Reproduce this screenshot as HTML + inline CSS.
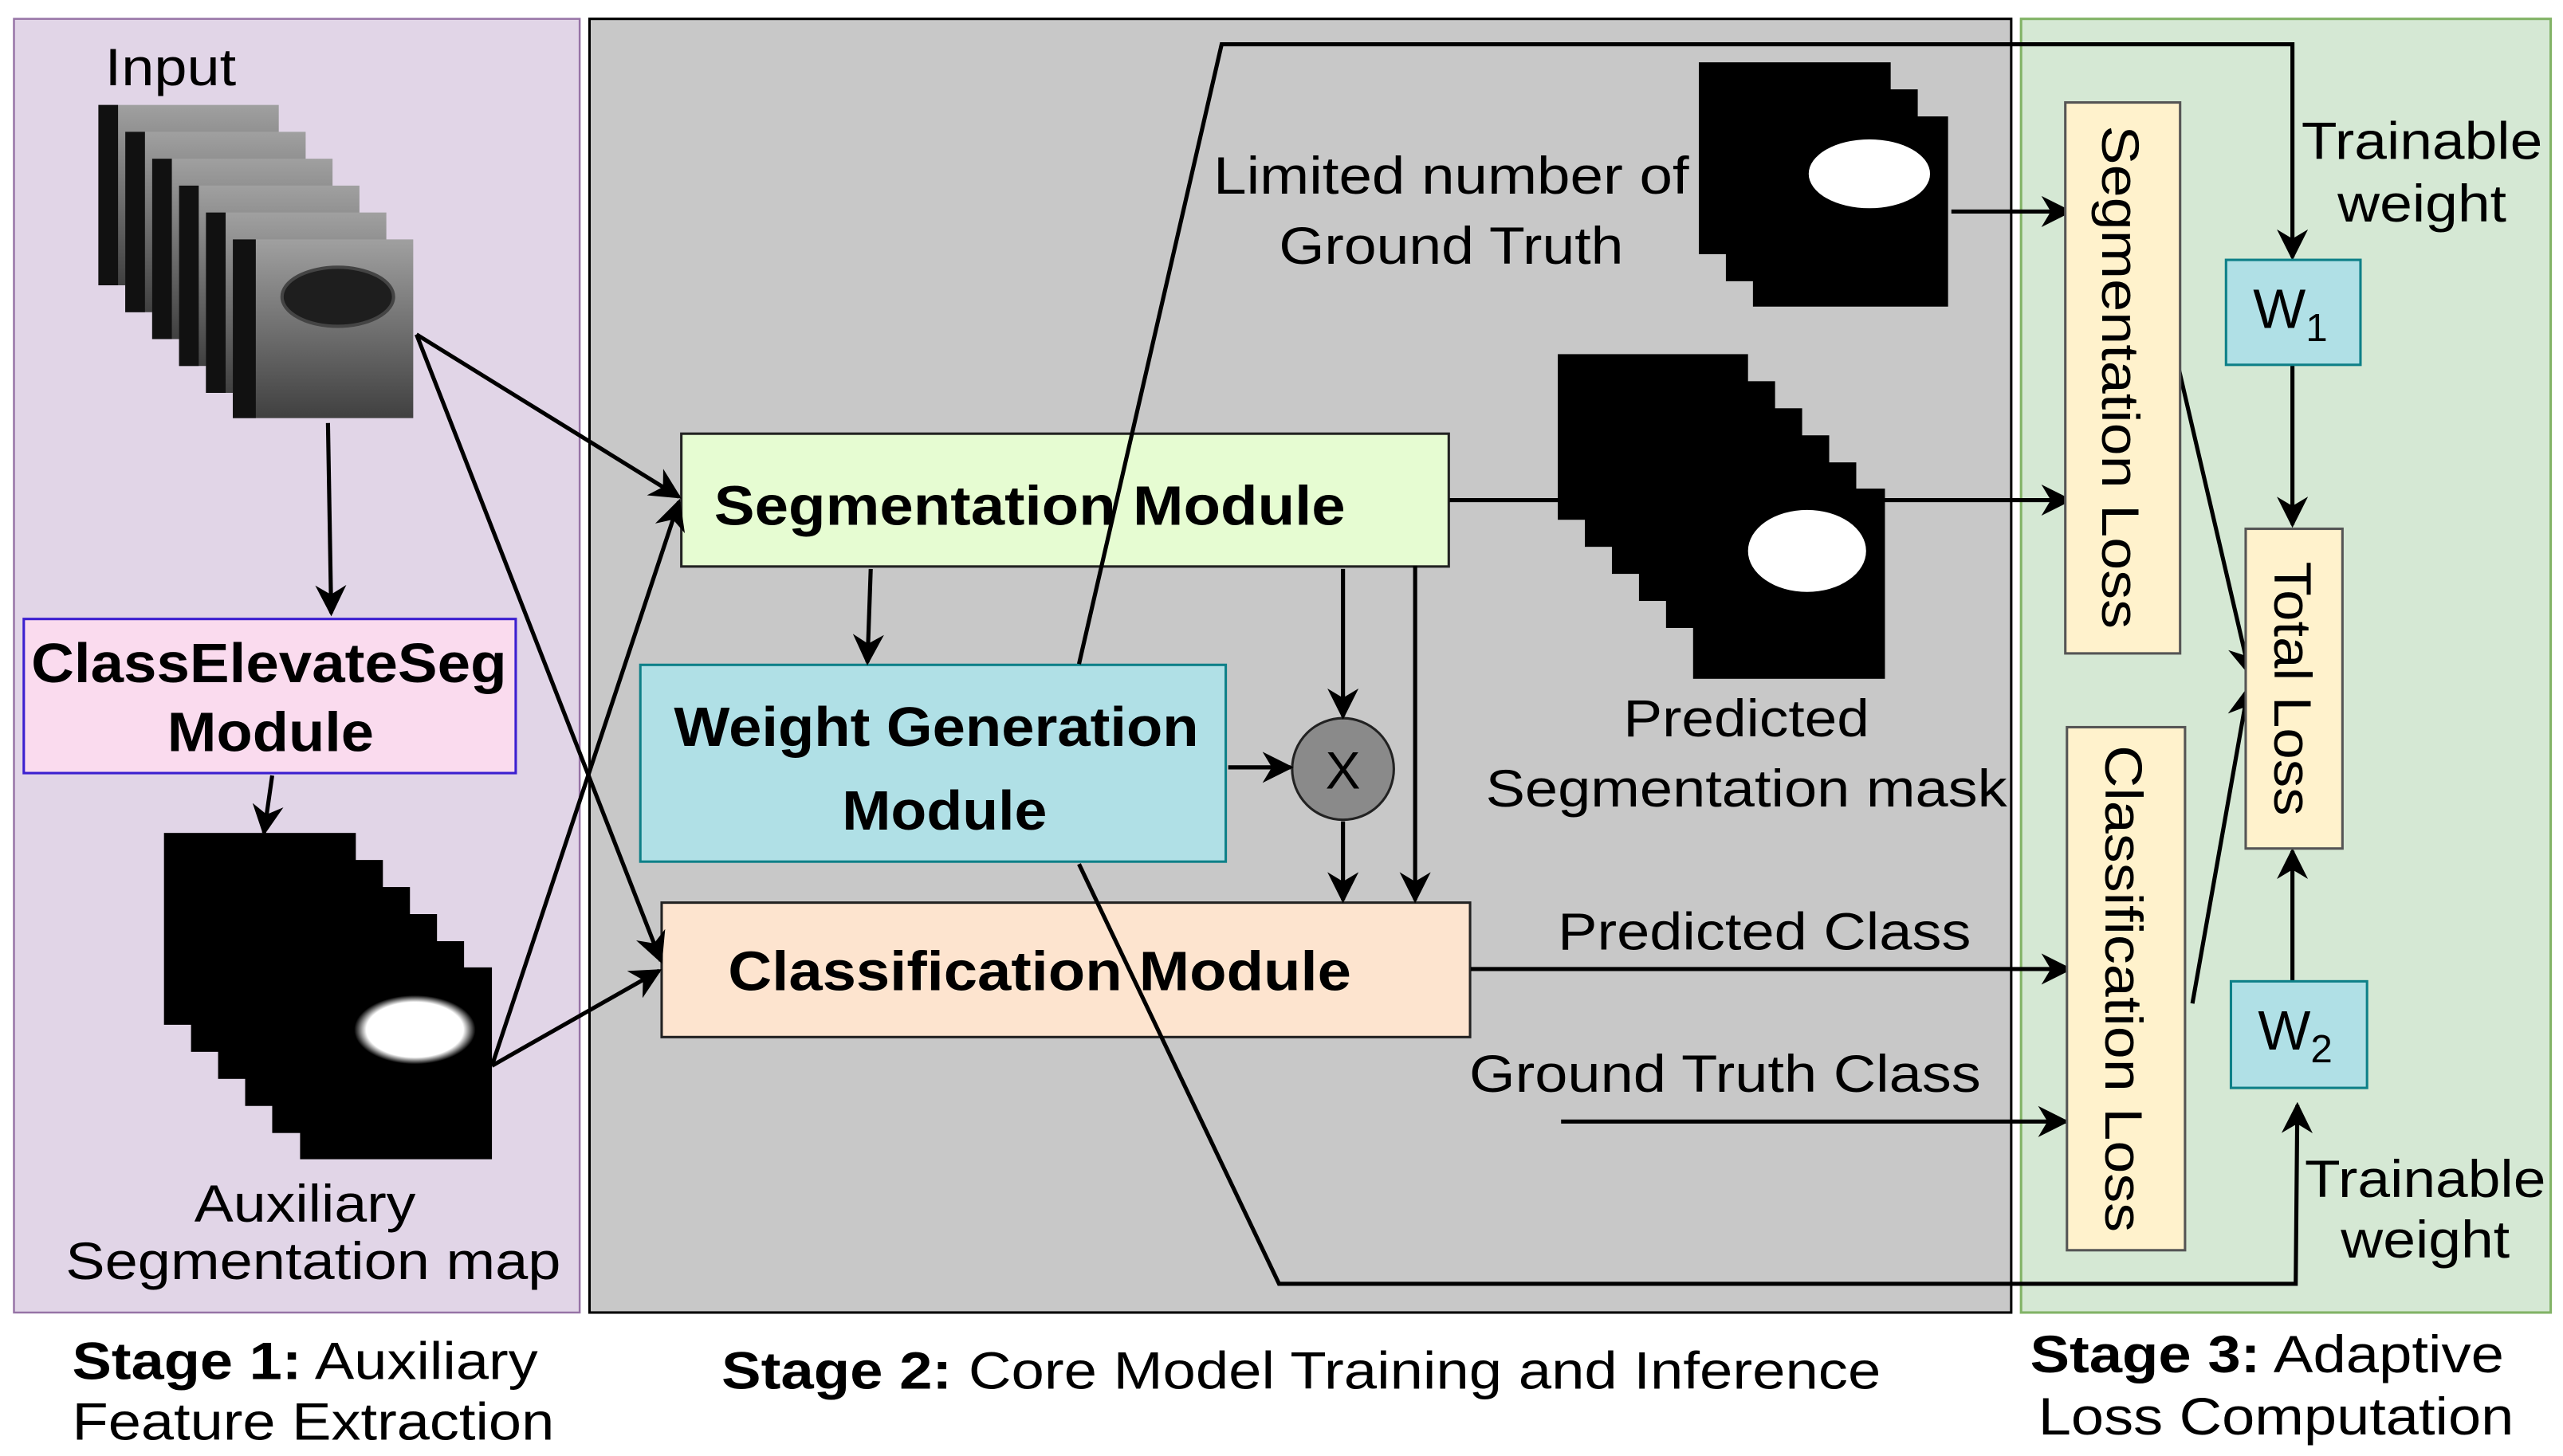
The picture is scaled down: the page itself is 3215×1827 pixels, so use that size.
<!DOCTYPE html>
<html><head><meta charset="utf-8"><style>html,body{margin:0;padding:0;background:#fff}svg{display:block}text{font-family:"Liberation Sans",Arial,sans-serif;fill:#000}</style></head>
<body>
<svg width="3215" height="1827" viewBox="0 0 1563 888" preserveAspectRatio="none" xmlns="http://www.w3.org/2000/svg">
<defs>
<marker id="b" viewBox="0 0 10 10" refX="9" refY="5" markerWidth="19" markerHeight="19" orient="auto" markerUnits="userSpaceOnUse"><path d="M0,0 L10,5 L0,10 L3,5 z" fill="#000"/></marker>
<linearGradient id="us" x1="0" y1="0" x2="0" y2="1"><stop offset="0" stop-color="#a0a0a0"/><stop offset="0.5" stop-color="#707070"/><stop offset="1" stop-color="#404040"/></linearGradient>
<radialGradient id="blob"><stop offset="0" stop-color="#fff"/><stop offset="0.8" stop-color="#fff"/><stop offset="1" stop-color="#000"/></radialGradient>
</defs>
<rect width="1563" height="888" fill="#fff"/>
<rect x="8.5" y="11.5" width="345" height="789" fill="#e1d5e7" stroke="#9673a6" stroke-width="1.2"/>
<rect x="359.5" y="11.5" width="867" height="789" fill="#c8c8c8" stroke="#000" stroke-width="1.5"/>
<rect x="1232.5" y="11.5" width="323" height="789" fill="#d5e8d4" stroke="#82b366" stroke-width="1.5"/>

<text x="64" y="52" font-size="32" textLength="80" lengthAdjust="spacingAndGlyphs">Input</text>
<g>
<rect x="60" y="64" width="110" height="110" fill="url(#us)"/><rect x="60" y="64" width="12" height="110" fill="#111"/>
<rect x="76.4" y="80.4" width="110" height="110" fill="url(#us)"/><rect x="76.4" y="80.4" width="12" height="110" fill="#111"/>
<rect x="92.8" y="96.8" width="110" height="110" fill="url(#us)"/><rect x="92.8" y="96.8" width="12" height="110" fill="#111"/>
<rect x="109.2" y="113.2" width="110" height="110" fill="url(#us)"/><rect x="109.2" y="113.2" width="12" height="110" fill="#111"/>
<rect x="125.6" y="129.6" width="110" height="110" fill="url(#us)"/><rect x="125.6" y="129.6" width="12" height="110" fill="#111"/>
<rect x="142" y="146" width="110" height="109" fill="url(#us)"/><rect x="142" y="146" width="14" height="109" fill="#111"/>
<ellipse cx="206" cy="181" rx="34" ry="18" fill="#1e1e1e" stroke="#444" stroke-width="2"/>
</g>
<line x1="200" y1="258" x2="202" y2="374" stroke="#000" stroke-width="2.5" marker-end="url(#b)"/>
<rect x="14.5" y="377.5" width="300" height="94" fill="#fadbee" stroke="#3b1fd0" stroke-width="1.5"/>
<text x="164" y="416" font-size="34" font-weight="bold" text-anchor="middle" textLength="290" lengthAdjust="spacingAndGlyphs">ClassElevateSeg</text>
<text x="165" y="458" font-size="34" font-weight="bold" text-anchor="middle" textLength="126" lengthAdjust="spacingAndGlyphs">Module</text>
<line x1="166" y1="473" x2="161" y2="508" stroke="#000" stroke-width="2.5" marker-end="url(#b)"/>
<g fill="#000">
<rect x="100" y="508" width="117" height="117"/>
<rect x="116.5" y="524.5" width="117" height="117"/>
<rect x="133" y="541" width="117" height="117"/>
<rect x="149.5" y="557.5" width="117" height="117"/>
<rect x="166" y="574" width="117" height="117"/>
<rect x="183" y="590" width="117" height="117"/>
</g>
<ellipse cx="253" cy="628" rx="37" ry="21" fill="url(#blob)"/>
<text x="186" y="745" font-size="32" text-anchor="middle" textLength="135" lengthAdjust="spacingAndGlyphs">Auxiliary</text>
<text x="191" y="780" font-size="32" text-anchor="middle" textLength="302" lengthAdjust="spacingAndGlyphs">Segmentation map</text>

<rect x="415.5" y="264.5" width="468" height="81" fill="#e6fcd2" stroke="#222" stroke-width="1.5"/>
<text x="628" y="320" font-size="34" font-weight="bold" text-anchor="middle" textLength="385" lengthAdjust="spacingAndGlyphs">Segmentation  Module</text>
<rect x="390.5" y="405.5" width="357" height="120" fill="#b0e0e6" stroke="#0e8088" stroke-width="1.5"/>
<text x="571" y="455" font-size="34" font-weight="bold" text-anchor="middle" textLength="320" lengthAdjust="spacingAndGlyphs">Weight Generation</text>
<text x="576" y="506" font-size="34" font-weight="bold" text-anchor="middle" textLength="125" lengthAdjust="spacingAndGlyphs">Module</text>
<rect x="403.5" y="550.5" width="493" height="82" fill="#fde4cf" stroke="#222" stroke-width="1.5"/>
<text x="634" y="604" font-size="34" font-weight="bold" text-anchor="middle" textLength="380" lengthAdjust="spacingAndGlyphs">Classification  Module</text>
<circle cx="819" cy="469" r="31" fill="#8a8a8a" stroke="#222" stroke-width="1.5"/>
<text x="819" y="481" font-size="32" text-anchor="middle">X</text>

<g stroke="#000" stroke-width="2.5" fill="none">
<line x1="254" y1="204" x2="414" y2="303" marker-end="url(#b)"/>
<line x1="254" y1="204" x2="403" y2="586" marker-end="url(#b)"/>
<line x1="300" y1="650" x2="414" y2="306" marker-end="url(#b)"/>
<line x1="300" y1="650" x2="402" y2="592" marker-end="url(#b)"/>
<line x1="531" y1="347" x2="529" y2="404" marker-end="url(#b)"/>
<line x1="749" y1="468" x2="787" y2="468" marker-end="url(#b)"/>
<line x1="819" y1="347" x2="819" y2="437" marker-end="url(#b)"/>
<line x1="819" y1="501" x2="819" y2="549" marker-end="url(#b)"/>
<line x1="863" y1="345" x2="863" y2="549" marker-end="url(#b)"/>
<line x1="884" y1="305" x2="1262" y2="305" marker-end="url(#b)"/>
<line x1="1190" y1="129" x2="1262" y2="129" marker-end="url(#b)"/>
<line x1="897" y1="591" x2="1262" y2="591" marker-end="url(#b)"/>
<line x1="952" y1="684" x2="1260" y2="684" marker-end="url(#b)"/>
<polyline points="658,405 745,27 1398,27 1398,157" marker-end="url(#b)"/>
<polyline points="658,527 780,783 1400,783 1401,674" marker-end="url(#b)"/>
<line x1="1398" y1="222" x2="1398" y2="320" marker-end="url(#b)"/>
<line x1="1398" y1="598" x2="1398" y2="519" marker-end="url(#b)"/>
<line x1="1328" y1="222" x2="1372" y2="411" marker-end="url(#b)"/>
<line x1="1337" y1="612" x2="1371" y2="420" marker-end="url(#b)"/>
</g>

<g fill="#000">
<rect x="1036" y="38" width="117" height="117"/>
<rect x="1052.5" y="54.5" width="117" height="117"/>
<rect x="1069" y="71" width="119" height="116"/>
</g>
<ellipse cx="1140" cy="106" rx="37" ry="21" fill="#fff"/>
<g fill="#000">
<rect x="950" y="216" width="116" height="101"/>
<rect x="966.5" y="232.5" width="116" height="101"/>
<rect x="983" y="249" width="116" height="101"/>
<rect x="999.5" y="265.5" width="116" height="101"/>
<rect x="1016" y="282" width="116" height="101"/>
<rect x="1032.5" y="298" width="117" height="116"/>
</g>
<ellipse cx="1102" cy="336" rx="36" ry="25" fill="#fff"/>

<text x="885" y="118" font-size="32" text-anchor="middle" textLength="290" lengthAdjust="spacingAndGlyphs">Limited number of</text>
<text x="885" y="161" font-size="32" text-anchor="middle" textLength="210" lengthAdjust="spacingAndGlyphs">Ground Truth</text>
<text x="1065" y="449" font-size="32" text-anchor="middle" textLength="150" lengthAdjust="spacingAndGlyphs">Predicted</text>
<text x="1065" y="492" font-size="32" text-anchor="middle" textLength="318" lengthAdjust="spacingAndGlyphs">Segmentation mask</text>
<text x="1076" y="579" font-size="32" text-anchor="middle" textLength="252" lengthAdjust="spacingAndGlyphs">Predicted Class</text>
<text x="1052" y="666" font-size="32" text-anchor="middle" textLength="312" lengthAdjust="spacingAndGlyphs">Ground Truth Class</text>

<rect x="1259.5" y="62.5" width="70" height="336" fill="#fff2cc" stroke="#555" stroke-width="1.5"/>
<text transform="translate(1282,230) rotate(90)" font-size="32" text-anchor="middle" textLength="307" lengthAdjust="spacingAndGlyphs">Segmentation Loss</text>
<rect x="1260.5" y="443.5" width="72" height="319" fill="#fff2cc" stroke="#555" stroke-width="1.5"/>
<text transform="translate(1284,603) rotate(90)" font-size="32" text-anchor="middle" textLength="297" lengthAdjust="spacingAndGlyphs">Classification Loss</text>
<rect x="1369.5" y="322.5" width="59" height="195" fill="#fff2cc" stroke="#555" stroke-width="1.5"/>
<text transform="translate(1387,420) rotate(90)" font-size="32" text-anchor="middle" textLength="155" lengthAdjust="spacingAndGlyphs">Total Loss</text>
<rect x="1357.5" y="158.5" width="82" height="64" fill="#b0e0e6" stroke="#0e8088" stroke-width="1.5"/>
<text x="1374" y="200" font-size="34">W<tspan font-size="24" dy="8">1</tspan></text>
<rect x="1360.5" y="598.5" width="83" height="65" fill="#b0e0e6" stroke="#0e8088" stroke-width="1.5"/>
<text x="1377" y="640" font-size="34">W<tspan font-size="24" dy="8">2</tspan></text>
<text x="1477" y="97" font-size="32" text-anchor="middle" textLength="147" lengthAdjust="spacingAndGlyphs">Trainable</text>
<text x="1477" y="135" font-size="32" text-anchor="middle" textLength="103" lengthAdjust="spacingAndGlyphs">weight</text>
<text x="1479" y="730" font-size="32" text-anchor="middle" textLength="147" lengthAdjust="spacingAndGlyphs">Trainable</text>
<text x="1479" y="767" font-size="32" text-anchor="middle" textLength="103" lengthAdjust="spacingAndGlyphs">weight</text>

<text x="44" y="841" font-size="32" textLength="284" lengthAdjust="spacingAndGlyphs"><tspan font-weight="bold">Stage 1:</tspan> Auxiliary</text>
<text x="44" y="878" font-size="32" textLength="294" lengthAdjust="spacingAndGlyphs">Feature Extraction</text>
<text x="440" y="847" font-size="32" textLength="707" lengthAdjust="spacingAndGlyphs"><tspan font-weight="bold">Stage 2:</tspan> Core Model Training and Inference</text>
<text x="1238" y="837" font-size="32" textLength="289" lengthAdjust="spacingAndGlyphs"><tspan font-weight="bold">Stage 3:</tspan> Adaptive</text>
<text x="1243" y="875" font-size="32" textLength="290" lengthAdjust="spacingAndGlyphs">Loss Computation</text>
</svg>
</body></html>
